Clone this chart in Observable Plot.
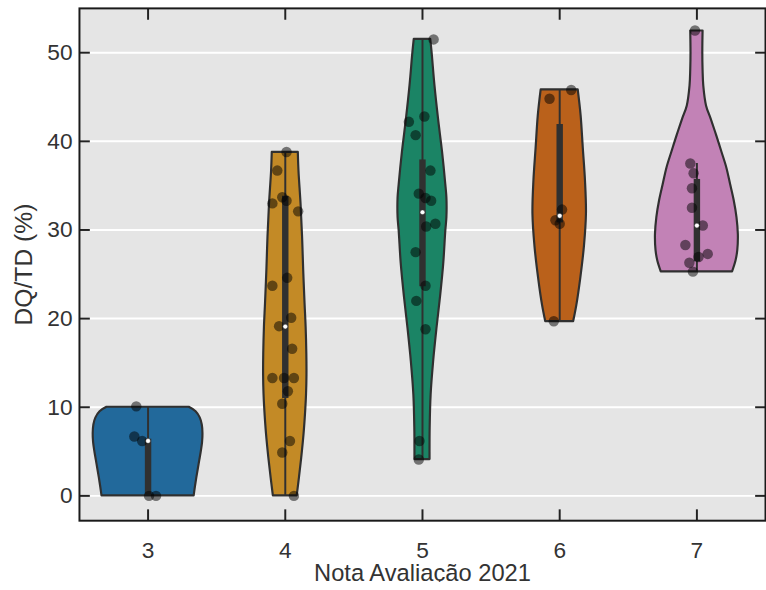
<!DOCTYPE html>
<html><head><meta charset="utf-8">
<script src="https://cdn.jsdelivr.net/npm/d3@7"></script>
<script src="https://cdn.jsdelivr.net/npm/@observablehq/plot@0.6"></script>
<style>
html,body{margin:0;padding:0;background:#fff;overflow:hidden;}
</style></head><body><div id="chart"></div>
<script>
// categories
const notas = [3, 4, 5, 6, 7];
const violinColors = ["#22699b", "#c38a26", "#1b8465", "#ba611b", "#c282b6"];
const edgeColor = "#303030";
const yTicks = [0, 10, 20, 30, 40, 50];

// violin outlines: [value, half-width in category units]
const profile3 = [[10, 0.30], [9.5, 0.35], [8.8, 0.38], [8, 0.395], [7, 0.40], [6, 0.397], [5, 0.388], [4, 0.377], [3, 0.366], [2, 0.355], [1, 0.345], [0, 0.336]];
const profile4 = [[38.75, 0.095], [36.6, 0.10], [32.9, 0.115], [29.2, 0.126], [25.5, 0.134], [21.7, 0.144], [19, 0.152], [16, 0.157], [13.6, 0.158], [11.5, 0.155], [9.9, 0.15], [7, 0.137], [4.3, 0.12], [2, 0.103], [0, 0.087]];
const profile5 = [[51.5, 0.06], [50, 0.07], [46.25, 0.091], [42.5, 0.117], [38.8, 0.146], [35.1, 0.17], [33.6, 0.178], [31.4, 0.178], [29.9, 0.17], [26.2, 0.155], [22.5, 0.132], [18.8, 0.105], [15.1, 0.081], [11.4, 0.063], [7.65, 0.056], [4.1, 0.055]];
const profile6 = [[45.8, 0.135], [42.9, 0.156], [39.2, 0.172], [35.5, 0.188], [31.8, 0.195], [28.1, 0.18], [24.35, 0.152], [21.5, 0.125], [19.67, 0.102]];
const profile7 = [[52.45, 0.045], [50, 0.043], [48, 0.045], [46.25, 0.05], [44.0, 0.07], [42.5, 0.104], [40.7, 0.143], [38.8, 0.182], [37.0, 0.218], [35.1, 0.246], [33.3, 0.272], [31.4, 0.292], [29.5, 0.302], [27.7, 0.298], [26.5, 0.285], [25.28, 0.26]];
const profiles = [profile3, profile4, profile5, profile6, profile7];

const values3 = [10.1, 6.7, 6.2, 0, 0];
const jitter3 = [-0.086, -0.10, -0.043, 0.007, 0.058];
const values4 = [38.8, 36.7, 33.7, 33.3, 33.0, 32.1, 24.6, 23.7, 20.1, 19.15, 16.6, 13.3, 13.3, 13.3, 11.8, 10.4, 6.2, 4.9, 0];
const jitter4 = [0.009, -0.058, -0.022, 0.009, -0.094, 0.094, 0.014, -0.094, 0.043, -0.045, 0.05, -0.094, -0.009, 0.063, 0.019, -0.022, 0.034, -0.022, 0.063];
const values5 = [51.5, 42.2, 42.8, 40.7, 36.7, 34.1, 33.6, 33.3, 30.4, 30.7, 27.5, 23.7, 22.0, 18.8, 6.2, 4.1];
const jitter5 = [0.081, -0.099, 0.014, -0.05, 0.058, -0.027, 0.022, 0.063, 0.027, 0.094, -0.05, 0.022, -0.045, 0.022, -0.022, -0.027];
const values6 = [45.8, 44.8, 32.3, 31.1, 30.7, 19.7];
const jitter6 = [0.084, -0.074, 0.017, -0.031, 0, -0.043];
const values7 = [52.5, 37.5, 36.4, 34.7, 32.5, 30.5, 28.3, 27.3, 26.95, 26.3, 25.3];
const jitter7 = [-0.014, -0.048, -0.024, -0.036, -0.036, 0.043, -0.084, 0.079, 0.012, -0.055, -0.029];
const valueSets = [values3, values4, values5, values6, values7];
const jitterSets = [jitter3, jitter4, jitter5, jitter6, jitter7];

// inner box statistics
const whiskerLow = [0, 0, 4.1, 19.7, 25.3];
const quartile1 = [0, 11.0, 23.6, 30.8, 26.4];
const medians = [6.2, 19.1, 32.0, 31.6, 30.5];
const quartile3 = [6.4, 33.8, 37.9, 41.9, 35.7];
const whiskerHigh = [10, 38.8, 51.5, 45.8, 37.5];

const boxRows = notas.map((n, i) => ({nota: n, lo: whiskerLow[i], q1: quartile1[i], med: medians[i], q3: quartile3[i], hi: whiskerHigh[i]}));
const pointRows = notas.flatMap((n, i) => valueSets[i].map((v, j) => ({nota: n, v, jit: jitterSets[i][j]})));

const font = "'Liberation Sans', Arial, Helvetica, sans-serif";
const chart = Plot.plot({
  width: 776, height: 590,
  marginLeft: 80, marginRight: 1, marginTop: 8, marginBottom: 63,
  x: {domain: [2.5, 7.5]},
  y: {domain: [-2.8, 55]},
  style: {fontFamily: font, fontSize: "23px", color: "#333", background: "#fff"},
  marks: [
    Plot.frame({fill: "#e5e5e5", stroke: null}),
    Plot.gridY(yTicks, {stroke: "#fff", strokeOpacity: 1, strokeWidth: 2}),
    ...notas.map((n, i) => Plot.areaX(profiles[i], {
      y: d => d[0], x1: d => n - d[1], x2: d => n + d[1],
      fill: violinColors[i], stroke: edgeColor, strokeWidth: 2.2, curve: "catmull-rom"
    })),
    Plot.ruleX(boxRows, {x: "nota", y1: "lo", y2: "hi", stroke: edgeColor, strokeWidth: 2}),
    Plot.ruleX(boxRows, {x: "nota", y1: "q1", y2: "q3", stroke: edgeColor, strokeWidth: 6.5}),
    Plot.dot(pointRows, {x: d => d.nota + d.jit, y: "v", r: 5.3, fill: "#000", fillOpacity: 0.5, stroke: null}),
    Plot.dot(boxRows, {x: "nota", y: "med", r: 2.4, fill: "#fff", stroke: edgeColor, strokeWidth: 0.4}),
    Plot.axisX(notas, {anchor: "bottom", tickSize: -11, tickPadding: 32, strokeWidth: 2, stroke: "#222",
      tickFormat: d3.format("d"), label: null}),
    Plot.axisX({anchor: "bottom", ticks: [], label: "Nota Avaliação 2021", labelAnchor: "center",
      labelOffset: 61, labelArrow: "none", fontSize: 24}),
    Plot.axisX(notas, {anchor: "top", tickSize: -11, strokeWidth: 2, stroke: "#222", tickFormat: () => "", label: null}),
    Plot.axisY(yTicks, {anchor: "left", tickSize: -11, tickPadding: 18, strokeWidth: 2, stroke: "#222",
      tickFormat: d3.format("d"), label: null}),
    Plot.axisY({anchor: "left", ticks: [], label: "DQ/TD (%)", labelAnchor: "center",
      labelOffset: 66, labelArrow: "none", fontSize: 25}),
    Plot.axisY(yTicks, {anchor: "right", tickSize: -11, strokeWidth: 2, stroke: "#222", tickFormat: () => "", label: null}),
    Plot.frame({stroke: "#1a1a1a", strokeWidth: 2})
  ]
});
document.getElementById("chart").appendChild(chart);
</script>
</body></html>
